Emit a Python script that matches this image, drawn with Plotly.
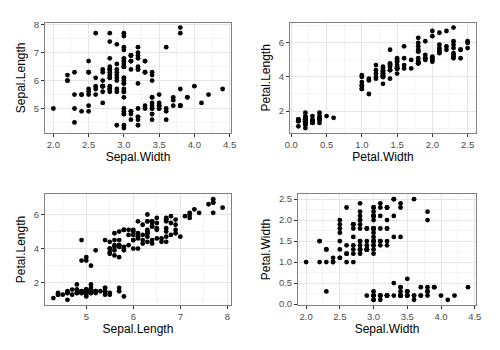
import plotly.graph_objects as go

sepal_length = [5.1,4.9,4.7,4.6,5.0,5.4,4.6,5.0,4.4,4.9,5.4,4.8,4.8,4.3,5.8,5.7,5.4,5.1,5.7,5.1,
5.4,5.1,4.6,5.1,4.8,5.0,5.0,5.2,5.2,4.7,4.8,5.4,5.2,5.5,4.9,5.0,5.5,4.9,4.4,5.1,
5.0,4.5,4.4,5.0,5.1,4.8,5.1,4.6,5.3,5.0,
7.0,6.4,6.9,5.5,6.5,5.7,6.3,4.9,6.6,5.2,5.0,5.9,6.0,6.1,5.6,6.7,5.6,5.8,6.2,5.6,
5.9,6.1,6.3,6.1,6.4,6.6,6.8,6.7,6.0,5.7,5.5,5.5,5.8,6.0,5.4,6.0,6.7,6.3,5.6,5.5,
5.5,6.1,5.8,5.0,5.6,5.7,5.7,6.2,5.1,5.7,
6.3,5.8,7.1,6.3,6.5,7.6,4.9,7.3,6.7,7.2,6.5,6.4,6.8,5.7,5.8,6.4,6.5,7.7,7.7,6.0,
6.9,5.6,7.7,6.3,6.7,7.2,6.2,6.1,6.4,7.2,7.4,7.9,6.4,6.3,6.1,7.7,6.3,6.4,6.0,6.9,
6.7,6.9,5.8,6.8,6.7,6.7,6.3,6.5,6.2,5.9]
sepal_width = [3.5,3.0,3.2,3.1,3.6,3.9,3.4,3.4,2.9,3.1,3.7,3.4,3.0,3.0,4.0,4.4,3.9,3.5,3.8,3.8,
3.4,3.7,3.6,3.3,3.4,3.0,3.4,3.5,3.4,3.2,3.1,3.4,4.1,4.2,3.1,3.2,3.5,3.6,3.0,3.4,
3.5,2.3,3.2,3.5,3.8,3.0,3.8,3.2,3.7,3.3,
3.2,3.2,3.1,2.3,2.8,2.8,3.3,2.4,2.9,2.7,2.0,3.0,2.2,2.9,2.9,3.1,3.0,2.7,2.2,2.5,
3.2,2.8,2.5,2.8,2.9,3.0,2.8,3.0,2.9,2.6,2.4,2.4,2.7,2.7,3.0,3.4,3.1,2.3,3.0,2.5,
2.6,3.0,2.6,2.3,2.7,3.0,2.9,2.9,2.5,2.8,
3.3,2.7,3.0,2.9,3.0,3.0,2.5,2.9,2.5,3.6,3.2,2.7,3.0,2.5,2.8,3.2,3.0,3.8,2.6,2.2,
3.2,2.8,2.8,2.7,3.3,3.2,2.8,3.0,2.8,3.0,2.8,3.8,2.8,2.8,2.6,3.0,3.4,3.1,3.0,3.1,
3.1,3.1,2.7,3.2,3.3,3.0,2.5,3.0,3.4,3.0]
petal_length = [1.4,1.4,1.3,1.5,1.4,1.7,1.4,1.5,1.4,1.5,1.5,1.6,1.4,1.1,1.2,1.5,1.3,1.4,1.7,1.5,
1.7,1.5,1.0,1.7,1.9,1.6,1.6,1.5,1.4,1.6,1.6,1.5,1.5,1.4,1.5,1.2,1.3,1.4,1.3,1.5,
1.3,1.3,1.3,1.6,1.9,1.4,1.6,1.4,1.5,1.4,
4.7,4.5,4.9,4.0,4.6,4.5,4.7,3.3,4.6,3.9,3.5,4.2,4.0,4.7,3.6,4.4,4.5,4.1,4.5,3.9,
4.8,4.0,4.9,4.7,4.3,4.4,4.8,5.0,4.5,3.5,3.8,3.7,3.9,5.1,4.5,4.5,4.7,4.4,4.1,4.0,
4.4,4.6,4.0,3.3,4.2,4.2,4.2,4.3,3.0,4.1,
6.0,5.1,5.9,5.6,5.8,6.6,4.5,6.3,5.8,6.1,5.1,5.3,5.5,5.0,5.1,5.3,5.5,6.7,6.9,5.0,
5.7,4.9,6.7,4.9,5.7,6.0,4.8,4.9,5.6,5.8,6.1,6.4,5.6,5.1,5.6,6.1,5.6,5.5,4.8,5.4,
5.6,5.1,5.1,5.9,5.7,5.2,5.0,5.2,5.4,5.1]
petal_width = [0.2,0.2,0.2,0.2,0.2,0.4,0.3,0.2,0.2,0.1,0.2,0.2,0.1,0.1,0.2,0.4,0.4,0.3,0.3,0.3,
0.2,0.4,0.2,0.5,0.2,0.2,0.4,0.2,0.2,0.2,0.2,0.4,0.1,0.2,0.2,0.2,0.2,0.1,0.2,0.2,
0.3,0.3,0.2,0.6,0.4,0.3,0.2,0.2,0.2,0.2,
1.4,1.5,1.5,1.3,1.5,1.3,1.6,1.0,1.3,1.4,1.0,1.5,1.0,1.4,1.3,1.4,1.5,1.0,1.5,1.1,
1.8,1.3,1.5,1.2,1.3,1.4,1.4,1.7,1.5,1.0,1.1,1.0,1.2,1.6,1.5,1.6,1.5,1.3,1.3,1.3,
1.2,1.4,1.2,1.0,1.3,1.2,1.3,1.3,1.1,1.3,
2.5,1.9,2.1,1.8,2.2,2.1,1.7,1.8,1.8,2.5,2.0,1.9,2.1,2.0,2.4,2.3,1.8,2.2,2.3,1.5,
2.3,2.0,2.0,1.8,2.1,1.8,1.8,1.8,2.1,1.6,1.9,2.0,2.2,1.5,1.4,2.3,2.4,1.8,1.8,2.1,
2.4,2.3,1.9,2.3,2.5,2.3,1.9,2.0,2.3,1.8]

panels = [
    ("Sepal.Width", sepal_width, "Sepal.Length", sepal_length, [2.0,2.5,3.0,3.5,4.0,4.5], ["2.0","2.5","3.0","3.5","4.0","4.5"], [5,6,7,8], ["5","6","7","8"]),
    ("Petal.Width", petal_width, "Petal.Length", petal_length, [0.0,0.5,1.0,1.5,2.0,2.5], ["0.0","0.5","1.0","1.5","2.0","2.5"], [2,4,6], ["2","4","6"]),
    ("Sepal.Length", sepal_length, "Petal.Length", petal_length, [5,6,7,8], ["5","6","7","8"], [2,4,6], ["2","4","6"]),
    ("Sepal.Width", sepal_width, "Petal.Width", petal_width, [2.0,2.5,3.0,3.5,4.0,4.5], ["2.0","2.5","3.0","3.5","4.0","4.5"], [0.0,0.5,1.0,1.5,2.0,2.5], ["0.0","0.5","1.0","1.5","2.0","2.5"]),
]

W, H = 500, 350
boxes = [(40.7, 230.7, 20, 132.7), (290.7, 480.7, 20, 132.7),
         (40.7, 230.7, 195, 308), (299, 480.7, 195, 308)]

fig = go.Figure()
layout = dict(width=W, height=H, margin=dict(l=0, r=0, t=0, b=0),
              paper_bgcolor="white", plot_bgcolor="white", showlegend=False,
              font=dict(family="Liberation Sans, Arial, sans-serif"))

def rng(v):
    lo, hi = min(v), max(v)
    e = (hi - lo) * 0.05
    return [lo - e, hi + e]

for i, (xt, xv, yt, yv, xtv, xtt, ytv, ytt) in enumerate(panels):
    n = "" if i == 0 else str(i + 1)
    fig.add_trace(go.Scatter(x=xv, y=yv, mode="markers", xaxis="x" + n, yaxis="y" + n,
                             marker=dict(color="black", size=4.8), hoverinfo="skip"))
    x0, x1, y0, y1 = boxes[i]
    xr = rng(xv); yr = rng(yv)
    dx = xtv[1] - xtv[0]; dy = ytv[1] - ytv[0]
    common = dict(showline=True, mirror=True, linecolor="#7f7f7f", linewidth=1,
                  gridcolor="#e5e5e5", gridwidth=1, zeroline=False,
                  ticks="outside", ticklen=3, tickcolor="#333333", tickwidth=1,
                  tickfont=dict(size=9.5, color="#4d4d4d"),
                  minor=dict(showgrid=True, gridcolor="#f4f4f4", gridwidth=1, ticks=""))
    layout["xaxis" + n] = dict(common, domain=[x0 / W, x1 / W], range=xr, anchor="y" + n,
                               tickvals=xtv, ticktext=xtt,
                               minor=dict(common["minor"], tickvals=[v + dx / 2 for v in [xtv[0] - dx] + xtv]),
                               title=dict(text=xt, font=dict(size=12, color="black"), standoff=3))
    layout["yaxis" + n] = dict(common, domain=[1 - y1 / H, 1 - y0 / H], range=yr, anchor="x" + n,
                               tickvals=ytv, ticktext=ytt,
                               minor=dict(common["minor"], tickvals=[v + dy / 2 for v in [ytv[0] - dy] + ytv]),
                               title=dict(text=yt, font=dict(size=12, color="black"), standoff=5))

fig.update_layout(**layout)
fig.write_html("out.html")
